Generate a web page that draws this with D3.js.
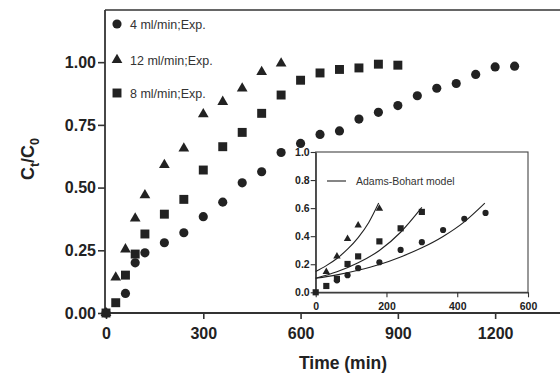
<!DOCTYPE html>
<html>
<head>
<meta charset="utf-8">
<script src="https://cdn.jsdelivr.net/npm/d3@7"></script>
<style>
  html, body { margin: 0; padding: 0; background: #fff; }
  svg { display: block; }
</style>
</head>
<body>
<svg id="chart" width="560" height="374"></svg>
<script>
// ---- Main plot data ----
const time4 = [0,60,90,120,180,240,300,360,420,480,540,600,660,720,780,840,900,960,1020,1080,1140,1200,1260];
const c4    = [0,0.078,0.20,0.24,0.28,0.32,0.384,0.442,0.519,0.563,0.64,0.676,0.712,0.726,0.773,0.80,0.827,0.866,0.896,0.915,0.951,0.981,0.984];
const time8 = [0,30,60,90,120,180,240,300,360,420,480,540,600,660,720,780,840,900];
const c8    = [0,0.041,0.151,0.235,0.315,0.394,0.453,0.570,0.663,0.72,0.796,0.869,0.928,0.957,0.971,0.977,0.992,0.988];
const time12 = [0,30,60,90,120,180,240,300,360,420,480,540];
const c12    = [0,0.142,0.254,0.377,0.47,0.59,0.656,0.793,0.842,0.895,0.961,0.995];
const mainXTicks = [0,300,600,900,1200];
const mainYTicks = [0,0.25,0.5,0.75,1.0];
const legendLabels = ["4 ml/min;Exp.", "12 ml/min;Exp.", "8 ml/min;Exp."];

// ---- Inset data ----
const inTime4 = [60,90,120,180,240,300,360,420,480];
const inC4    = [0.085,0.122,0.172,0.214,0.302,0.357,0.444,0.524,0.566];
const inTime8 = [0,30,60,90,120,180,240,300];
const inC8    = [0,0.045,0.096,0.202,0.256,0.363,0.456,0.573];
const inTime12 = [30,60,90,120,180];
const inC12    = [0.146,0.256,0.381,0.478,0.597];
const modelTime4 = [0,60,120,180,240,300,360,420,478];
const modelC4    = [0.10,0.124,0.157,0.198,0.252,0.317,0.398,0.502,0.635];
const modelTime8 = [0,60,120,180,240,300];
const modelC8    = [0.10,0.146,0.21,0.298,0.428,0.605];
const modelTime12 = [0,30,60,90,120,150,178];
const modelC12    = [0.148,0.19,0.241,0.307,0.39,0.498,0.636];
const insetXTicks = [0,200,400,600];
const insetYTicks = [0,0.2,0.4,0.6,0.8,1.0];
const insetLegend = "Adams-Bohart model";

const svg = d3.select("#chart");
const ink = "#222";
const axisInk = "#333";
const font = "'Liberation Sans', Arial, sans-serif";

// ---- Main scales ----
const x = d3.scaleLinear().domain([0, 1400]).range([106, 560]);
const y = d3.scaleLinear().domain([0, 1.2]).range([313, 12]);

const main = svg.append("g");

// frame lines
main.append("line").attr("x1", 105).attr("x2", 560).attr("y1", 10).attr("y2", 10)
  .attr("stroke", axisInk).attr("stroke-width", 1.6);

const xAxis = d3.axisBottom(x).tickValues(mainXTicks).tickFormat(d3.format("d")).tickSize(6).tickSizeOuter(0);
const gx = main.append("g").attr("transform", "translate(0,313)").call(xAxis);
gx.select(".domain").attr("d", "M105,0H560").attr("stroke", axisInk).attr("stroke-width", 1.8);
gx.selectAll(".tick line").attr("stroke", axisInk).attr("stroke-width", 1.6);
gx.selectAll(".tick text").attr("font-family", font).attr("font-weight", "bold")
  .attr("font-size", 16).attr("fill", ink).attr("dy", "1.05em");

const yAxis = d3.axisLeft(y).tickValues(mainYTicks).tickFormat(d3.format(".2f")).tickSize(7).tickSizeOuter(0);
const gy = main.append("g").attr("transform", "translate(105,0)").call(yAxis);
gy.select(".domain").attr("d", "M0,10V314").attr("stroke", axisInk).attr("stroke-width", 1.8);
gy.selectAll(".tick line").attr("stroke", axisInk).attr("stroke-width", 1.6);
gy.selectAll(".tick text").attr("font-family", font).attr("font-weight", "bold")
  .attr("font-size", 16).attr("fill", ink).attr("x", -9);

// axis titles
main.append("text").attr("x", 343).attr("y", 369).attr("text-anchor", "middle")
  .attr("font-family", font).attr("font-weight", "bold").attr("font-size", 17.5).attr("fill", ink)
  .text("Time (min)");

const yt = main.append("text").attr("transform", "translate(34,159) rotate(-90)")
  .attr("text-anchor", "middle").attr("font-family", font).attr("font-weight", "bold")
  .attr("font-size", 18).attr("fill", ink);
yt.append("tspan").text("C");
yt.append("tspan").attr("font-size", 12.5).attr("dy", 5).text("t");
yt.append("tspan").attr("dy", -5).text("/C");
yt.append("tspan").attr("font-size", 12.5).attr("dy", 5).text("0");

// markers
const sym = (type, size) => d3.symbol().type(type).size(size)();
function drawSeries(g, xs, ys, xsc, ysc, type, size) {
  g.selectAll(null).data(xs.map((t, i) => [t, ys[i]])).enter().append("path")
    .attr("d", sym(type, size))
    .attr("transform", d => `translate(${xsc(d[0])},${ysc(d[1])})`)
    .attr("fill", ink);
}
drawSeries(main, time4, c4, x, y, d3.symbolCircle, 66);
drawSeries(main, time12, c12, x, y, d3.symbolTriangle, 50);
drawSeries(main, time8, c8, x, y, d3.symbolSquare, 80);

// main legend
const legY = [24, 60, 93];
const legTypes = [[d3.symbolCircle, 66], [d3.symbolTriangle, 50], [d3.symbolSquare, 80]];
legendLabels.forEach((lab, i) => {
  main.append("path").attr("d", sym(legTypes[i][0], legTypes[i][1]))
    .attr("transform", `translate(117,${legY[i]})`).attr("fill", ink);
  main.append("text").attr("x", 130).attr("y", legY[i] + 4.5)
    .attr("font-family", font).attr("font-size", 12.5).attr("fill", "#333").text(lab);
});

// ---- Inset ----
const ix = d3.scaleLinear().domain([0, 600]).range([315.7, 528]);
const iy = d3.scaleLinear().domain([0, 1]).range([292.3, 152]);
const inset = svg.append("g");
inset.append("rect").attr("x", ix(0)).attr("y", iy(1)).attr("width", ix(600) - ix(0))
  .attr("height", iy(0) - iy(1)).attr("fill", "#fff").attr("stroke", "#444").attr("stroke-width", 1.1);

const ixAxis = d3.axisBottom(ix).tickValues(insetXTicks).tickFormat(d3.format("d")).tickSize(5).tickSizeOuter(0);
const igx = inset.append("g").attr("transform", `translate(0,${iy(0)})`).call(ixAxis);
igx.select(".domain").attr("stroke", axisInk).attr("stroke-width", 1.2);
igx.selectAll(".tick line").attr("stroke", axisInk).attr("stroke-width", 1.1);
igx.selectAll(".tick text").attr("font-family", font).attr("font-weight", "bold")
  .attr("font-size", 10.5).attr("fill", ink).attr("dy", "0.9em");

const iyAxis = d3.axisLeft(iy).tickValues(insetYTicks).tickFormat(d3.format(".1f")).tickSize(5).tickSizeOuter(0);
const igy = inset.append("g").attr("transform", `translate(${ix(0)},0)`).call(iyAxis);
igy.select(".domain").attr("stroke", axisInk).attr("stroke-width", 1.2);
igy.selectAll(".tick line").attr("stroke", axisInk).attr("stroke-width", 1.1);
igy.selectAll(".tick text").attr("font-family", font).attr("font-weight", "bold")
  .attr("font-size", 10.5).attr("fill", ink).attr("x", -6);

// model curves
const line = d3.line().x(d => ix(d[0])).y(d => iy(d[1])).curve(d3.curveMonotoneX);
[[modelTime12, modelC12], [modelTime8, modelC8], [modelTime4, modelC4]].forEach(([ts, cs]) => {
  inset.append("path").attr("d", line(ts.map((t, i) => [t, cs[i]])))
    .attr("fill", "none").attr("stroke", ink).attr("stroke-width", 1.1);
});

drawSeries(inset, inTime4, inC4, ix, iy, d3.symbolCircle, 30);
drawSeries(inset, inTime12, inC12, ix, iy, d3.symbolTriangle, 24);
drawSeries(inset, inTime8, inC8, ix, iy, d3.symbolSquare, 38);

// inset legend
inset.append("line").attr("x1", 327).attr("x2", 346).attr("y1", 181).attr("y2", 181)
  .attr("stroke", ink).attr("stroke-width", 1.1);
inset.append("text").attr("x", 356).attr("y", 185).attr("font-family", font)
  .attr("font-size", 10.5).attr("fill", "#333").text(insetLegend);
</script>
</body>
</html>
